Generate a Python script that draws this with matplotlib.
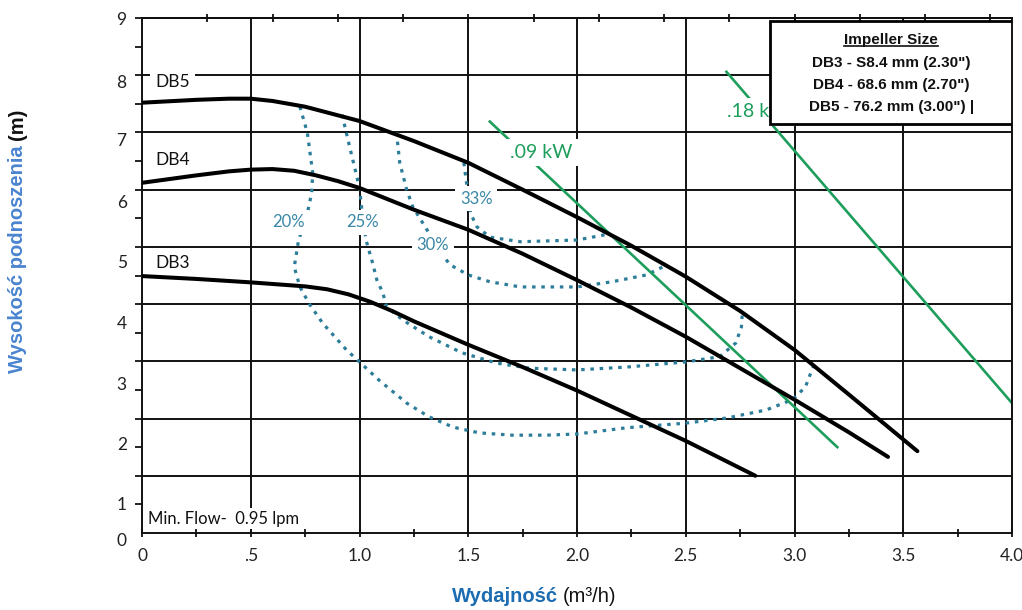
import matplotlib
matplotlib.use('Agg')
import matplotlib.pyplot as plt
from matplotlib.patches import Rectangle
from matplotlib.lines import Line2D
import numpy as np

# ---------------- data ----------------
db5_x = [0, 0.25, 0.4, 0.5, 0.6, 0.75, 0.9, 1.0, 1.25, 1.5, 1.75, 2.0, 2.25, 2.5, 2.75, 3.0, 3.25, 3.565]
db5_y = [7.52, 7.57, 7.59, 7.59, 7.55, 7.45, 7.3, 7.2, 6.85, 6.47, 6.0, 5.52, 5.02, 4.48, 3.88, 3.2, 2.42, 1.43]
db4_x = [0, 0.25, 0.4, 0.5, 0.6, 0.7, 0.8, 0.9, 1.0, 1.25, 1.5, 1.75, 2.0, 2.25, 2.5, 2.75, 3.0, 3.25, 3.43]
db4_y = [6.12, 6.25, 6.32, 6.35, 6.36, 6.33, 6.25, 6.15, 6.03, 5.65, 5.3, 4.88, 4.42, 3.94, 3.43, 2.88, 2.33, 1.76, 1.33]
db3_x = [0, 0.25, 0.5, 0.75, 0.85, 0.95, 1.05, 1.15, 1.25, 1.5, 1.75, 2.0, 2.25, 2.5, 2.82]
db3_y = [4.49, 4.44, 4.38, 4.31, 4.26, 4.17, 4.04, 3.88, 3.7, 3.29, 2.9, 2.49, 2.05, 1.61, 1.0]

eff20_x = [0.726, 0.76, 0.785, 0.78, 0.755, 0.72, 0.70, 0.726, 0.77, 0.83, 0.94, 1.0, 1.09, 1.217,
           1.32, 1.43, 1.55, 1.70, 1.86, 2.0, 2.23, 2.5, 2.69, 2.87, 2.99, 3.05, 3.08, 3.09]
eff20_y = [7.45, 7.0, 6.29, 5.94, 5.5, 5.12, 4.65, 4.3, 4.0, 3.67, 3.2, 2.99, 2.67, 2.27,
           2.03, 1.85, 1.75, 1.71, 1.71, 1.73, 1.84, 1.92, 2.01, 2.15, 2.33, 2.55, 2.85, 2.93]
eff25_x = [0.92, 0.947, 0.98, 1.0, 1.015, 1.03, 1.06, 1.08, 1.107, 1.125, 1.2, 1.32, 1.47, 1.63,
           1.78, 2.0, 2.23, 2.5, 2.655, 2.73, 2.756, 2.76]
eff25_y = [7.31, 6.87, 6.35, 6.03, 5.5, 5.12, 4.72, 4.42, 4.2, 3.95, 3.72, 3.43, 3.15, 2.97,
           2.88, 2.85, 2.9, 2.99, 3.08, 3.32, 3.6, 3.85]
eff30_x = [1.17, 1.185, 1.217, 1.245, 1.31, 1.36, 1.415, 1.5, 1.6, 1.74, 2.0, 2.16, 2.32, 2.41]
eff30_y = [7.0, 6.47, 6.0, 5.7, 5.3, 4.98, 4.69, 4.51, 4.39, 4.30, 4.3, 4.39, 4.51, 4.68]
eff33_x = [1.48, 1.49, 1.505, 1.51, 1.54, 1.6, 1.74, 2.0, 2.14]
eff33_y = [6.47, 6.17, 5.85, 5.59, 5.35, 5.17, 5.09, 5.12, 5.22]

kw09_x = [1.599, 3.197]
kw09_y = [7.19, 1.5]
kw18_x = [2.687, 4.0]
kw18_y = [8.06, 2.27]

x_ticks = [0, 0.5, 1.0, 1.5, 2.0, 2.5, 3.0, 3.5, 4.0]
x_ticklabels = ['0', '.5', '1.0', '1.5', '2.0', '2.5', '3.0', '3.5', '4.0']
y_label_pos = [0.0, 0.51, 1.56, 2.62, 3.67, 4.74, 5.79, 6.87, 7.89, 8.99]
y_ticklabels = ['0', '1', '2', '3', '4', '5', '6', '7', '8', '9']
top_ticks = [0.3, 0.6, 0.9, 1.2, 1.5, 1.8, 2.1, 2.4, 2.7, 3.0, 3.3, 3.6, 3.9]

legend_title = 'Impeller Size'
legend_lines = ['DB3 - S8.4 mm (2.30")', 'DB4 - 68.6 mm (2.70")', 'DB5 - 76.2 mm (3.00") |']

# ---------------- style ----------------
W, H = 1022, 610
fig = plt.figure(figsize=(W / 100, H / 100), dpi=100)
ax = fig.add_axes([142 / W, 77 / H, 870 / W, 515 / H])
ax.set_xlim(0, 4.0)
ax.set_ylim(0, 9)

GRID = '#111111'
TEAL = '#2c7d99'
PCT = '#3a88a6'
GREEN = '#1e9e5c'
TICKFONT = 'Lato'

ax.vlines(np.arange(0.5, 4.01, 0.5), 0, 9, colors=GRID, lw=1.4, zorder=1)
ax.hlines(np.arange(1, 9), 0, 4.0, colors=GRID, lw=1.4, zorder=1)
for s in ax.spines.values():
    s.set_linewidth(1.4)
    s.set_color(GRID)

# efficiency curves
dot = dict(color=TEAL, lw=2.3, linestyle=(0, (1.1, 1.8)), zorder=2, dash_capstyle='butt')
for xs, ys in [(eff20_x, eff20_y), (eff25_x, eff25_y), (eff30_x, eff30_y), (eff33_x, eff33_y)]:
    ax.plot(xs, ys, **dot)

# power lines
ax.plot(kw09_x, kw09_y, color=GREEN, lw=1.9, zorder=2.5)
ax.plot(kw18_x, kw18_y, color=GREEN, lw=1.9, zorder=2.5)

# pump curves
for xs, ys in [(db5_x, db5_y), (db4_x, db4_y), (db3_x, db3_y)]:
    ax.plot(xs, ys, color='black', lw=2.9, zorder=3, solid_capstyle='round', solid_joinstyle='round')

wb = dict(boxstyle='square,pad=0.3', fc='white', ec='none')
ax.text(0.06, 7.88, 'DB5', fontsize=12.5, family=TICKFONT, color='#111', va='center', ha='left', zorder=4, bbox=wb)
ax.text(0.06, 6.52, 'DB4', fontsize=12.5, family=TICKFONT, color='#111', va='center', ha='left', zorder=4)
ax.text(0.06, 4.72, 'DB3', fontsize=12.5, family=TICKFONT, color='#111', va='center', ha='left', zorder=4)

pb = dict(boxstyle='square,pad=0.28', fc='white', ec='none')
ax.text(0.673, 5.43, '20%', fontsize=12, family=TICKFONT, color=PCT, ha='center', va='center', zorder=4, bbox=pb)
ax.text(1.013, 5.43, '25%', fontsize=12, family=TICKFONT, color=PCT, ha='center', va='center', zorder=4, bbox=pb)
ax.text(1.337, 5.03, '30%', fontsize=12, family=TICKFONT, color=PCT, ha='center', va='center', zorder=4, bbox=pb)
ax.text(1.537, 5.84, '33%', fontsize=12, family=TICKFONT, color=PCT, ha='center', va='center', zorder=4, bbox=pb)

ax.text(1.69, 6.65, '.09 kW', fontsize=14, family=TICKFONT, color=GREEN, ha='left', va='center', zorder=4, bbox=pb)
ax.text(2.69, 7.36, '.18 kW', fontsize=14, family=TICKFONT, color=GREEN, ha='left', va='center', zorder=4, bbox=pb)

ax.text(0.028, 0.245, 'Min. Flow-  0.95 lpm', fontsize=12, family=TICKFONT, color='#111', ha='left', va='center', zorder=4,
        bbox=dict(boxstyle='square,pad=0.15', fc='white', ec='none'))

# ticks
ax.set_xticks(x_ticks)
ax.set_xticklabels(x_ticklabels, fontsize=12.5, family=TICKFONT, color='#222')
ax.set_xticks(np.arange(0, 4.01, 0.25), minor=True)
ax.tick_params(axis='x', which='both', direction='inout', length=6, width=1.3, color=GRID, pad=8)
ax.set_yticks(y_label_pos)
ax.set_yticklabels(y_ticklabels, fontsize=12.5, family=TICKFONT, color='#222')
ax.set_yticks(np.arange(0, 9.01, 0.5), minor=True)
ax.tick_params(axis='y', which='major', length=0, pad=11)
ax.tick_params(axis='y', which='minor', direction='out', length=5, width=1.3, color=GRID)
for lbl in ax.get_yticklabels():
    if lbl.get_text() == '0':
        lbl.set_va('top')

sec = ax.secondary_xaxis('top')
sec.set_xticks(top_ticks)
sec.set_xticklabels([])
sec.tick_params(direction='inout', length=6, width=1.3, color=GRID)
sec.spines['top'].set_linewidth(1.4)

# legend box
ax.add_patch(Rectangle((0.722, 0.794), 0.278, 0.2, transform=ax.transAxes, fc='white', ec='black', lw=2.0, zorder=6))
lf = dict(fontsize=11, family='Liberation Sans', weight='bold', color='#111', ha='center', va='baseline', transform=ax.transAxes, zorder=7)
t_title = ax.text(0.861, 0.9495, legend_title, **lf)
for yy, s in zip([0.905, 0.862, 0.819], legend_lines):
    ax.text(0.861, yy, s, **lf)

# axis labels (mixed style)
BLUE_Y = '#4a84cf'
BLUE_X = '#1c6cb2'
xl1 = fig.text(452 / W, 1 - 602 / H, 'Wydajność', fontsize=14.5, family='Liberation Sans', weight='bold', color=BLUE_X, ha='left', va='baseline')
yl1 = fig.text(18 / W, 1 - 373 / H, 'Wysokość podnoszenia', fontsize=14.5, family='Liberation Sans', weight='bold', color=BLUE_Y, rotation=90, ha='center', va='bottom')

fig.canvas.draw()
r = fig.canvas.get_renderer()
bb = xl1.get_window_extent(r)
fig.text(bb.x1 / W + 5 / W, 1 - 602 / H, '(m³/h)', fontsize=14.5, family='Liberation Sans', color='#111', ha='left', va='baseline')
bb = yl1.get_window_extent(r)
fig.text(18 / W, (bb.y1 + 5) / H, '(m)', fontsize=14.5, family='Liberation Sans', weight='bold', color='#111', rotation=90, ha='center', va='bottom')
bb = t_title.get_window_extent(r)
base = ax.transAxes.transform((0, 0.9495))[1]
fig.add_artist(Line2D([bb.x0 / W, bb.x1 / W], [(base - 2) / H, (base - 2) / H], transform=fig.transFigure, color='#111', lw=1.2, zorder=8))

fig.savefig('out.png', dpi=100)
